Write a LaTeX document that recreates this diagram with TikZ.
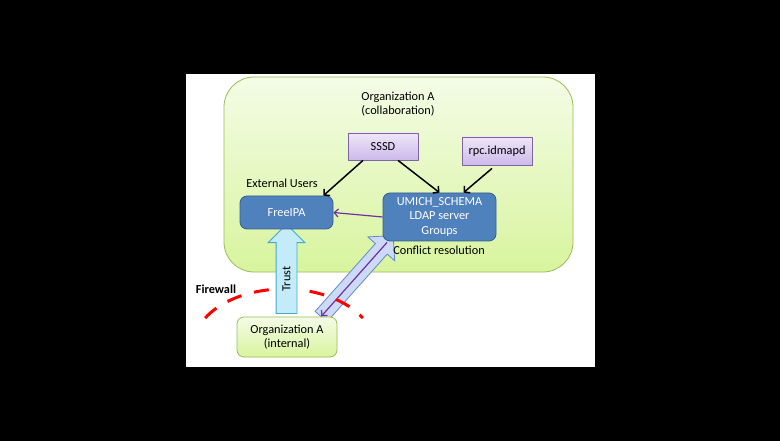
\documentclass[tikz,border=0pt]{standalone}
\usepackage{fontspec}
\setmainfont{Carlito}
\usetikzlibrary{positioning,calc,shapes.arrows,arrows.meta}
\pgfdeclarelayer{bg}
\pgfdeclarelayer{arrows}
\pgfsetlayers{bg,arrows,main}
\definecolor{orgline}{HTML}{9BBB59}
\definecolor{orgtop}{HTML}{F4FCE6}
\definecolor{orgbot}{HTML}{D8F49E}
\definecolor{bluefill}{HTML}{4F81BD}
\definecolor{blueline}{HTML}{385D8A}
\definecolor{purptop}{HTML}{EEE7F8}
\definecolor{purpbot}{HTML}{CDB9EA}
\definecolor{purpline}{HTML}{8064A2}
\definecolor{trustfill}{HTML}{C3EBFA}
\definecolor{trustline}{HTML}{46AAC5}
\definecolor{syncfill}{HTML}{CCDAF6}
\definecolor{syncline}{HTML}{6388CC}
\definecolor{mapline}{HTML}{7030A0}
\begin{document}
\begin{tikzpicture}[x=1pt,y=1pt,line join=round,font=\fontsize{12.3}{14.5}\selectfont,
	box/.style={draw,line width=.8pt,align=center,inner sep=2pt},
	bluebox/.style={box,rounded corners=7pt,draw=blueline,fill=bluefill,text=white},
	purplebox/.style={box,draw=purpline,top color=purptop,bottom color=purpbot},
	greenbox/.style={box,rounded corners=7pt,draw=orgline,top color=orgtop,bottom color=orgbot},
	lookup/.style={line width=1.5pt,-{Straight Barb[length=4pt,width=9pt]}},
	mapping/.style={line width=1.2pt,mapline,-{Straight Barb[length=4pt,width=8pt]}},
	blockarrow/.style={single arrow,line width=.8pt,inner xsep=0pt,text height=0pt,text depth=0pt},
	trustarrow/.style={blockarrow,draw=trustline,fill=trustfill,
		single arrow head extend=8pt,inner ysep=10pt},
	syncarrow/.style={blockarrow,draw=syncline,fill=syncfill,
		single arrow head extend=10pt,inner ysep=7.5pt},
	firewall/.style={draw=red,line width=3pt,dash pattern=on 15pt off 13pt}]
	% page and collaboration area
	\begin{pgfonlayer}{bg}
		\fill[black] (0,0) rectangle (780,-441);
		\fill[white] (186,-74) rectangle (595,-367);
		\node[greenbox,rounded corners=30pt,minimum width=349pt,minimum height=195pt] (collab) at (398.5,-174.5) {};
	\end{pgfonlayer}
	\node[align=center] (title) at (398,-104) {Organization A\\(collaboration)};
	% services
	\node[purplebox,minimum width=70pt,minimum height=27pt] (sssd) at (383,-146.5) {SSSD};
	\node[purplebox,minimum width=70pt,minimum height=28pt] (rpc) at (497,-151) {rpc.idmapd};
	\node[bluebox,minimum width=93pt,minimum height=33pt] (free) at (286.5,-212.5) {FreeIPA};
	\node[bluebox,minimum width=113pt,minimum height=48pt] (umich) at (439.5,-217) {UMICH\_SCHEMA\\LDAP server\\Groups};
	\node[greenbox,minimum width=100pt,minimum height=40pt] (inte) at (287,-337) {Organization A\\(internal)};
	\node (ext) at (282,-183) {External Users};
	\node (conf) at (439,-250) {Conflict resolution};
	\node[font=\fontsize{12.3}{14.5}\selectfont\bfseries] (fw) at (216,-289) {Firewall};
	% lookups
	\draw[lookup] ([xshift=-20pt]sssd.south) -- ([xshift=-10pt]free.north east);
	\draw[lookup] ([xshift=15pt]sssd.south) -- (umich.north);
	\draw[lookup] ([xshift=-5pt,yshift=-3pt]rpc.south) -- ([xshift=24pt]umich.north);
	\draw[mapping] (umich.west) -- (free.east);
	% trust and sync
	\coordinate (synchead) at ($(umich.south west)+(8,3)$);
	\coordinate (synctail) at ($(inte.north east)+(-19,-3)$);
	\coordinate (trusthead) at (free.south);
	\coordinate (trusttail) at ($(free.south |- inte.north)+(0,-2)$);
	\begin{pgfonlayer}{arrows}
		\path let \p1=($(synchead)-(synctail)$), \n1={atan2(\y1,\x1)}, \n2={veclen(\x1,\y1)} in
			node[syncarrow,rotate=\n1,minimum height=\n2] (sync) at ($(synctail)!.5!(synchead)$) {};
		\draw[mapping] ($(synchead)!.05!(synctail)$) -- ($(synchead)!.96!(synctail)$);
		\draw[firewall] (284,-347) ++(150:91 and 58) arc[start angle=150,end angle=30,x radius=91,y radius=58];
		\path let \p1=($(trusthead)-(trusttail)$), \n1={atan2(\y1,\x1)}, \n2={veclen(\x1,\y1)} in
			node[trustarrow,rotate=\n1,minimum height=\n2] (trust) at ($(trusttail)!.5!(trusthead)$) {};
		\node[rotate=90] (trustlbl) at ($(trust.center)+(0,-5)$) {Trust};
	\end{pgfonlayer}
\end{tikzpicture}
\end{document}
